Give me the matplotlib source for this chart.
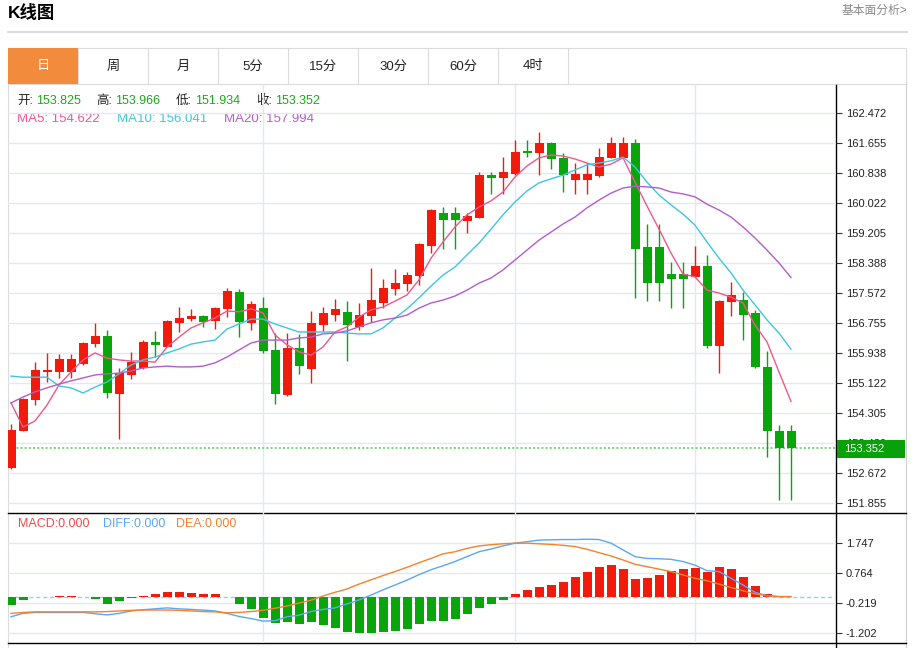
import numpy as np
import matplotlib.pyplot as plt
from matplotlib.patches import Rectangle

plt.rcParams['font.family'] = ['Liberation Sans', 'Noto Sans CJK SC', 'DejaVu Sans']

# daily candles (open / high / low / close), oldest first
opens = [152.81, 153.82, 154.66, 155.42, 155.42, 155.42, 155.64, 156.18, 156.40, 154.82,
         155.34, 155.53, 156.24, 156.10, 156.76, 156.86, 156.95, 156.81, 157.14, 157.60,
         156.76, 157.16, 156.02, 154.80, 156.07, 155.50, 156.70, 156.97, 157.05, 156.65,
         156.95, 157.30, 157.68, 157.82, 158.03, 158.85, 159.75, 159.75, 159.53, 159.61,
         160.78, 160.70, 160.81, 161.44, 161.38, 161.66, 161.25, 160.65, 160.65, 160.76,
         161.25, 161.25, 161.66, 158.82, 158.82, 158.09, 158.09, 158.01, 158.31, 156.13,
         157.33, 157.38, 157.03, 155.56, 153.825, 153.825]
highs = [154.01, 154.71, 155.69, 155.94, 155.91, 155.91, 156.24, 156.76, 156.56, 155.53,
         155.97, 156.29, 156.54, 156.84, 157.19, 157.14, 156.97, 157.19, 157.71, 157.68,
         157.35, 157.46, 156.48, 156.48, 156.46, 157.08, 157.19, 157.41, 157.35, 157.30,
         158.25, 157.95, 158.23, 158.14, 158.93, 159.86, 159.91, 159.91, 159.75, 160.87,
         160.87, 161.27, 161.74, 161.74, 161.95, 161.68, 161.38, 161.11, 161.11, 161.52,
         161.82, 161.82, 161.76, 159.45, 159.45, 158.42, 158.42, 158.85, 158.61, 157.38,
         157.87, 157.60, 157.11, 155.99, 153.966, 153.966]
lows = [152.78, 153.81, 154.52, 155.15, 155.26, 155.26, 155.61, 156.10, 154.71, 153.60,
        155.23, 155.50, 155.83, 156.10, 156.51, 156.81, 156.65, 156.59, 156.92, 156.37,
        156.56, 155.94, 154.55, 154.77, 155.37, 155.12, 156.54, 156.81, 155.72, 156.56,
        156.78, 157.16, 157.52, 157.63, 157.79, 158.66, 158.77, 158.77, 159.21, 159.61,
        160.27, 160.27, 160.78, 161.27, 160.78, 160.95, 160.32, 160.27, 160.27, 160.73,
        161.25, 161.25, 157.44, 157.35, 157.35, 157.16, 157.16, 158.01, 156.07, 155.39,
        156.95, 156.29, 155.53, 153.11, 151.934, 151.934]
closes = [153.84, 154.69, 155.48, 155.48, 155.78, 155.78, 156.21, 156.40, 154.85, 155.39,
          155.69, 156.24, 156.16, 156.81, 156.89, 156.95, 156.78, 157.16, 157.63, 156.78,
          157.27, 155.99, 154.82, 156.07, 155.58, 156.76, 157.03, 157.14, 156.70, 156.97,
          157.38, 157.71, 157.84, 158.06, 158.91, 159.83, 159.56, 159.56, 159.67, 160.78,
          160.70, 160.87, 161.41, 161.38, 161.66, 161.22, 160.78, 160.81, 160.81, 161.27,
          161.66, 161.66, 158.77, 157.84, 157.84, 157.95, 157.95, 158.31, 156.13, 157.35,
          157.52, 156.97, 155.56, 153.82, 153.352, 153.352]

ma5 = [154.58, 153.92, 154.09, 154.52, 155.07, 155.42, 155.75, 155.94, 155.80, 155.75,
       155.72, 155.72, 155.69, 156.10, 156.37, 156.62, 156.76, 156.89, 157.08, 157.06,
       157.14, 157.03, 156.43, 156.16, 155.97, 155.88, 156.10, 156.51, 156.65, 156.92,
       157.11, 157.19, 157.35, 157.52, 157.93, 158.52, 158.96, 159.37, 159.70, 159.91,
       160.08, 160.32, 160.73, 161.03, 161.25, 161.33, 161.30, 161.22, 161.11, 161.00,
       161.08, 161.25, 160.59, 159.94, 159.31, 158.66, 158.09, 158.01, 157.65, 157.57,
       157.46, 157.30, 156.70, 156.24, 155.42, 154.622]
ma10 = [155.31, 155.28, 155.28, 155.28, 155.04, 154.99, 154.85, 155.01, 155.15, 155.37,
        155.61, 155.75, 155.83, 155.94, 156.05, 156.18, 156.24, 156.29, 156.59, 156.73,
        156.86, 156.86, 156.73, 156.62, 156.51, 156.51, 156.51, 156.51, 156.48, 156.46,
        156.46, 156.62, 156.89, 157.14, 157.44, 157.76, 158.06, 158.28, 158.61, 158.93,
        159.31, 159.70, 160.05, 160.35, 160.57, 160.68, 160.78, 160.92, 161.06, 161.11,
        161.17, 161.27, 161.00, 160.59, 160.24, 159.97, 159.72, 159.42, 158.96, 158.52,
        158.12, 157.65, 157.25, 156.84, 156.48, 156.041]
ma20 = [154.58, 154.74, 154.88, 154.99, 155.09, 155.18, 155.26, 155.34, 155.37, 155.39,
        155.45, 155.53, 155.56, 155.58, 155.56, 155.56, 155.58, 155.67, 155.83, 156.02,
        156.21, 156.29, 156.29, 156.29, 156.35, 156.37, 156.46, 156.48, 156.54, 156.65,
        156.76, 156.84, 156.89, 156.97, 157.16, 157.30, 157.38, 157.49, 157.65, 157.84,
        157.98, 158.20, 158.47, 158.74, 159.01, 159.23, 159.45, 159.64, 159.89, 160.10,
        160.29, 160.43, 160.48, 160.46, 160.43, 160.32, 160.27, 160.19, 159.99, 159.83,
        159.64, 159.37, 159.07, 158.74, 158.39, 157.994]

macd = [-0.26, -0.11, 0.0, 0.0, 0.03, 0.03, 0.0, -0.09, -0.25, -0.14,
        -0.05, 0.03, 0.08, 0.16, 0.16, 0.13, 0.10, 0.10, 0.0, -0.24,
        -0.40, -0.71, -0.87, -0.82, -0.90, -0.84, -0.93, -1.04, -1.17, -1.19,
        -1.18, -1.17, -1.14, -1.06, -0.91, -0.81, -0.81, -0.72, -0.58, -0.36,
        -0.25, -0.10, 0.09, 0.21, 0.32, 0.37, 0.48, 0.64, 0.82, 0.98,
        1.02, 0.89, 0.58, 0.60, 0.72, 0.84, 0.90, 0.93, 0.81, 0.97,
        0.89, 0.65, 0.34, 0.09, 0.0, 0.0]
diff = [-0.66, -0.55, -0.52, -0.52, -0.52, -0.52, -0.52, -0.56, -0.60, -0.55,
        -0.47, -0.43, -0.40, -0.37, -0.40, -0.42, -0.44, -0.47, -0.55, -0.65,
        -0.72, -0.80, -0.79, -0.66, -0.61, -0.49, -0.42, -0.37, -0.24, -0.11,
        0.05, 0.22, 0.38, 0.54, 0.72, 0.88, 1.01, 1.15, 1.31, 1.47,
        1.56, 1.66, 1.75, 1.80, 1.85, 1.86, 1.87, 1.87, 1.88, 1.87,
        1.75, 1.53, 1.31, 1.25, 1.24, 1.22, 1.15, 1.03, 0.85, 0.82,
        0.60, 0.38, 0.14, 0.03, 0.0, 0.0]
dea = [-0.55, -0.52, -0.50, -0.50, -0.50, -0.50, -0.50, -0.50, -0.49, -0.47,
       -0.45, -0.44, -0.44, -0.44, -0.45, -0.47, -0.49, -0.50, -0.53, -0.52,
       -0.49, -0.45, -0.38, -0.31, -0.21, -0.12, 0.02, 0.14, 0.25, 0.41,
       0.55, 0.69, 0.82, 0.96, 1.11, 1.25, 1.40, 1.47, 1.58, 1.66,
       1.70, 1.73, 1.75, 1.75, 1.73, 1.71, 1.68, 1.64, 1.55, 1.44,
       1.33, 1.20, 1.06, 0.98, 0.90, 0.82, 0.71, 0.60, 0.52, 0.41,
       0.30, 0.19, 0.09, 0.03, 0.0, 0.0]

price_ticks = [162.472, 161.655, 160.838, 160.022, 159.205, 158.388, 157.572,
               156.755, 155.938, 155.122, 154.305, 153.489, 152.672, 151.855]
macd_ticks = [1.747, 0.764, -0.219, -1.202]
month_starts = [21, 42, 57]
tabs = ['日', '周', '月', '5分', '15分', '30分', '60分', '4时']

UP = '#f21a0a'
DOWN = '#0aa50a'
C_MA5, C_MA10, C_MA20 = '#f0578e', '#3ec6e0', '#b45ccc'
C_DIFF, C_DEA = '#5aa9f0', '#f5822a'
GRID = '#e3e9ef'

W, H = 913, 648
fig = plt.figure(figsize=(W / 100, H / 100), dpi=100)

# pixel-space background layer for the page furniture
bg = fig.add_axes([0, 0, 1, 1])
bg.set_xlim(0, W)
bg.set_ylim(H, 0)
bg.axis('off')


def px_axes(x0, y0, x1, y1):
    return fig.add_axes([x0 / W, 1 - y1 / H, (x1 - x0) / W, (y1 - y0) / H])


bg.text(8, 13, 'K线图', fontsize=12.5, fontweight='bold', va='center', ha='left')
bg.text(907, 11, '基本面分析>', fontsize=8.5, color='#8a8a8a', va='center', ha='right')
bg.plot([8, 907], [32, 32], color='#d4d4d4', lw=1.2)

# tab strip
bg.add_patch(Rectangle((8, 48), 898, 36, facecolor='white', edgecolor='#dcdcdc', lw=0.8))
for k, t in enumerate(tabs):
    x0 = 8 + 70 * k
    if k == 0:
        bg.add_patch(Rectangle((x0, 48), 70, 36, facecolor='#f28b3c', edgecolor='none'))
    bg.plot([x0 + 70, x0 + 70], [48, 84], color='#dcdcdc', lw=0.8)
    bg.text(x0 + 35, 66.5, t, fontsize=9.5, ha='center', va='center',
            color='white' if k == 0 else '#222222')

# outer frame of the chart block
bg.plot([8, 8], [84, 648], color='#dcdcdc', lw=0.8)
bg.plot([906, 906], [84, 648], color='#cfcfcf', lw=0.8)
bg.plot([8, 906], [513, 513], color='black', lw=1)
bg.plot([8, 906], [643, 643], color='black', lw=1)
bg.plot([836, 836], [85, 648], color='black', lw=1)

x = np.arange(len(closes))
xlim = (-0.25, 68.75)

# ---- price panel ----
ax = px_axes(8, 85, 836, 513)
ax.set_facecolor('none')
ax.set_xlim(*xlim)
ax.set_ylim(151.583, 163.234)
for s in ax.spines.values():
    s.set_visible(False)
ax.set_xticks([])
ax.yaxis.tick_right()
ax.set_yticks(price_ticks)
ax.set_yticklabels([f'{t:.3f}' for t in price_ticks])
ax.tick_params(axis='y', length=4, width=0.8, color='#333333', pad=3,
               labelsize=8, labelcolor='#222222')
for t in price_ticks:
    ax.axhline(t, color=GRID, lw=1, zorder=0)
for m in month_starts:
    ax.axvline(m, color=GRID, lw=1, zorder=0)

o = np.array(opens)
c = np.array(closes)
up = c >= o
cols = np.where(up, UP, DOWN)
ax.vlines(x, lows, highs, colors=cols, lw=1, zorder=2)
ax.bar(x, np.maximum(np.abs(c - o), 0.02), bottom=np.minimum(o, c), width=0.75,
       color=cols, zorder=3)

ax.plot(x, ma5, color=C_MA5, lw=1, zorder=4)
ax.plot(x, ma10, color=C_MA10, lw=1, zorder=4)
ax.plot(x, ma20, color=C_MA20, lw=1, zorder=4)

ax.axhline(closes[-1], color='#86d486', lw=1.5, linestyle=(0, (1, 1)), zorder=1)

# OHLC + MA readout
row1 = [('开:', f'{opens[-1]:.3f}', 17), ('高:', f'{highs[-1]:.3f}', 96),
        ('低:', f'{lows[-1]:.3f}', 176), ('收:', f'{closes[-1]:.3f}', 256)]
for lab, val, x0 in row1:
    bg.text(x0, 101, lab, fontsize=9, color='#222222', va='center')
    bg.text(x0 + 19, 101, val, fontsize=9, color='#1ea51e', va='center')
bg.text(17, 119, f'MA5: {ma5[-1]:.3f}', fontsize=9.5, color=C_MA5, va='center')
bg.text(117, 119, f'MA10: {ma10[-1]:.3f}', fontsize=9.5, color=C_MA10, va='center')
bg.text(224, 119, f'MA20: {ma20[-1]:.3f}', fontsize=9.5, color=C_MA20, va='center')

# ---- MACD panel ----
ax2 = px_axes(8, 513, 836, 643)
ax2.set_facecolor('none')
ax2.set_xlim(*xlim)
ax2.set_ylim(-1.520, 2.739)
for s in ax2.spines.values():
    s.set_visible(False)
ax2.set_xticks([])
ax2.yaxis.tick_right()
ax2.set_yticks(macd_ticks)
ax2.set_yticklabels([f'{t:.3f}' for t in macd_ticks])
ax2.tick_params(axis='y', length=4, width=0.8, color='#333333', pad=3,
                labelsize=8, labelcolor='#222222')
for t in macd_ticks:
    ax2.axhline(t, color=GRID, lw=1, zorder=0)
for m in month_starts:
    ax2.axvline(m, color=GRID, lw=1, zorder=0)

mv = np.array(macd)
ax2.bar(x, mv, width=0.75, color=np.where(mv >= 0, UP, DOWN), zorder=2)
ax2.axhline(0, color='#8fd2ef', lw=1, linestyle=(0, (3, 2)), zorder=1)
ax2.plot(x, diff, color=C_DIFF, lw=1, zorder=3)
ax2.plot(x, dea, color=C_DEA, lw=1, zorder=3)

bg.text(18, 524, 'MACD:0.000', fontsize=9, color='#f04a4a', va='center')
bg.text(103, 524, 'DIFF:0.000', fontsize=9, color=C_DIFF, va='center')
bg.text(176, 524, 'DEA:0.000', fontsize=9, color=C_DEA, va='center')

# last-price flag, drawn on top of the axis labels
top = px_axes(836, 85, 907, 513)
top.set_xlim(836, 907)
top.set_ylim(513, 85)
top.axis('off')
top.add_patch(Rectangle((837, 440), 68, 18, facecolor='#0aa00a', edgecolor='none'))
top.text(844, 449, f'{closes[-1]:.3f}', color='white', fontsize=8, va='center', ha='left')

fig.savefig('out.png', dpi=100)
